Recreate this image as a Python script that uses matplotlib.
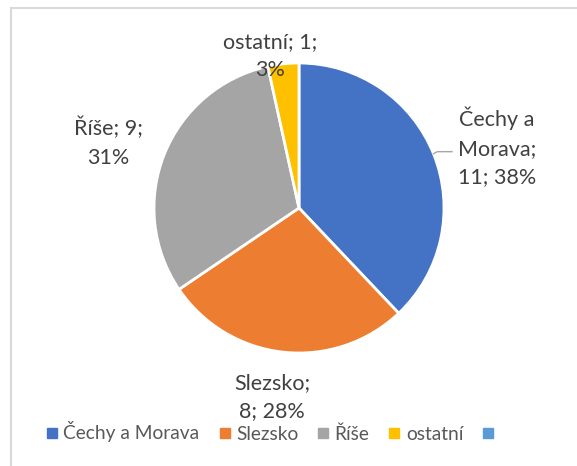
import matplotlib.pyplot as plt
from matplotlib.lines import Line2D
from matplotlib.patches import Rectangle
import numpy as np

# data
names = ['Čechy a Morava', 'Slezsko', 'Říše', 'ostatní']
values = [11, 8, 9, 1]
colors = ['#4472C4', '#ED7D31', '#A5A5A5', '#FFC000']
extra_legend_color = '#5B9BD5'

# label text, wrapped like in the original
label_lines = [
    ['Čechy a', 'Morava;', '{v}; {p}%'],
    ['Slezsko;', '{v}; {p}%'],
    ['Říše; {v};', '{p}%'],
    ['ostatní; {v};', '{p}%'],
]
# label centres in pixels (x, y from top)
label_pos = [(497, 147), (272, 397), (108, 142), (270, 56)]

W, H = 577, 466
plt.rcParams['font.family'] = ['Lato', 'DejaVu Sans']

fig = plt.figure(figsize=(W / 100, H / 100), dpi=100)
ax = fig.add_axes([0, 0, 1, 1])

cx, cy, r = 299, H - 208, 145
ax.pie(values, colors=colors, startangle=90, counterclock=False,
       center=(cx, cy), radius=r, frame=True,
       wedgeprops=dict(edgecolor='white', linewidth=2))

total = sum(values)
for lines, (x, y), v in zip(label_lines, label_pos, values):
    pct = round(v / total * 100)
    txt = '\n'.join(l.format(v=v, p=pct) for l in lines)
    ax.text(x, H - y, txt, ha='center', va='center', fontsize=15.5,
            color='#404040', linespacing=1.55)

# leader line for the first label
ang = np.deg2rad(22)
x0, y0 = cx + r * np.cos(ang), cy + r * np.sin(ang)
ax.plot([x0, x0 + 4, 452], [y0, y0 + 2, y0 + 2], color='#A6A6A6', lw=1)

# chart border (only top and left are inside the image)
ax.add_patch(Rectangle((10.5, -20), W + 20, H - 7.5 + 20, fill=False,
                       edgecolor='#D9D9D9', lw=1.5))

ax.set_xlim(0, W)
ax.set_ylim(0, H)
ax.set_aspect('auto')
ax.axis('off')

handles = [Line2D([], [], marker='s', ls='', color=c, markersize=6.5)
           for c in colors + [extra_legend_color]]
fig.legend(handles, names + [''], loc='center', bbox_to_anchor=(273 / W, 1 - 432 / H),
           ncol=5, frameon=False, fontsize=13.8, labelcolor='#595959',
           handlelength=0.6, handletextpad=0.3, columnspacing=1.0)

fig.savefig('out.png', dpi=100)
